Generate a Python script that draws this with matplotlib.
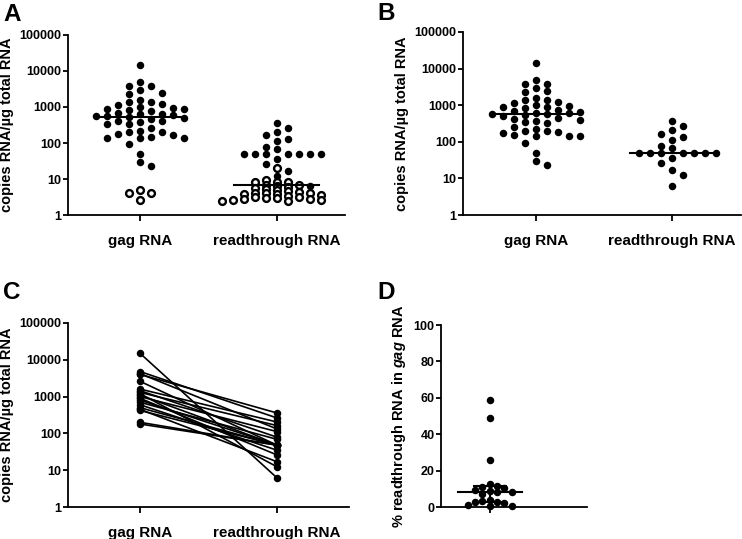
import numpy as np
import matplotlib
matplotlib.use('Agg')
import matplotlib.pyplot as plt
from matplotlib.ticker import FixedLocator, NullLocator

plt.rcParams['font.family'] = ['Liberation Sans', 'DejaVu Sans']
plt.rcParams['font.weight'] = 'bold'
plt.rcParams['axes.labelweight'] = 'bold'
plt.rcParams['mathtext.fontset'] = 'custom'
plt.rcParams['mathtext.rm'] = 'Liberation Sans:bold'
plt.rcParams['mathtext.it'] = 'Liberation Sans:italic:bold'
plt.rcParams['mathtext.default'] = 'rm'

# data
categories = ['gag RNA', 'readthrough RNA']
gag = [14500, 4900, 3900, 3900, 2900, 2500, 2250, 1600, 1400, 1350, 1250, 1150,
       1000, 950, 900, 900, 850, 750, 700, 650, 620, 600, 580, 560, 530, 500,
       460, 420, 400, 380, 340, 330, 260, 220, 200, 200, 180, 170, 150, 140,
       140, 140, 95, 48, 29, 23]
gag_open = [5.0, 4.1, 4.1, 2.6]
rt = [359, 263, 204, 163, 132, 112, 79, 69, 48, 48, 48, 48, 48, 48, 48,
      35, 26, 17, 12.4, 6.2]
rt_open = [20, 9.5, 8.5, 8.2, 8, 7, 6.8, 6.5, 6, 5.5, 5.2, 5, 4.6, 4.4, 4.2,
           4, 4, 3.9, 3.8, 3.6, 3.3, 3.2, 3.1, 3, 2.9, 2.8, 2.7, 2.6, 2.6,
           2.5, 2.5]
pair_gag = [15000, 4800, 4200, 4000, 2600, 1600, 1450, 1300, 1200, 1100,
            1000, 900, 800, 700, 600, 500, 450, 420, 200, 180]
pair_rt = [6.2, 263, 132, 359, 48, 204, 79, 163, 12.4, 48,
           112, 26, 48, 69, 35, 48, 17, 48, 48, 48]
pct = [59, 49, 26, 12.5, 11.5, 11.2, 10.5, 9.3, 8.8, 8.5, 8.1, 7.1,
       3.8, 3.5, 3.0, 2.6, 2.2, 1.2, 0.8, 0.5]
log_ticks = [1, 10, 100, 1000, 10000, 100000]
pct_ticks = [0, 20, 40, 60, 80, 100]

COL = 11.0   # column spacing in px
MS = 5.4


def swarm(vals, ypx, xpx_per_unit, dy=6.0):
    # graphpad-like scatter: points go into columns, nearest centre first
    # dy can be one number or one per point (open circles pack tighter)
    vals = np.asarray(vals, float)
    dys = np.broadcast_to(np.asarray(dy, float), vals.shape)
    offs = np.zeros(len(vals))
    cols = {}
    for i in np.argsort(-vals, kind='stable'):
        y = ypx(vals[i])
        k = 0
        while True:
            if k == 0:
                cands = [0]
            else:
                right = sum(len(cols.get(j, [])) for j in range(1, 20))
                left = sum(len(cols.get(-j, [])) for j in range(1, 20))
                cands = [k, -k] if right <= left else [-k, k]
            ok = None
            for c in cands:
                if all(abs(y - py) >= (dys[i] + pd) / 2 for py, pd in cols.get(c, [])):
                    ok = c
                    break
            if ok is not None:
                cols.setdefault(ok, []).append((y, dys[i]))
                offs[i] = ok * COL / xpx_per_unit
                break
            k += 1
    return offs


def style(ax, log=True):
    for s in ['top', 'right']:
        ax.spines[s].set_visible(False)
    for s in ['left', 'bottom']:
        ax.spines[s].set_linewidth(1.3)
    ax.tick_params(axis='both', direction='out', length=3.8, width=1.3)
    ax.tick_params(axis='y', labelsize=9, pad=0.8)
    if log:
        ax.set_yscale('log')
        ax.set_ylim(1, 100000)
        ax.yaxis.set_major_locator(FixedLocator(log_ticks))
        ax.yaxis.set_minor_locator(NullLocator())
        ax.set_yticklabels([str(t) for t in log_ticks])
        ax.set_ylabel('copies RNA/\u00b5g total RNA', fontsize=10.5, labelpad=4)
    ax.set_xticks([0, 1])
    ax.set_xticklabels(categories)
    ax.tick_params(axis='x', labelsize=11, pad=9, length=4.5)


fig = plt.figure(figsize=(7.42, 5.39), dpi=100)

# panel A
axA = fig.add_axes([68 / 742, 1 - 215 / 539, 277 / 742, 180 / 539])
for x0, fv, ov in [(0, gag, gag_open), (1, rt, rt_open)]:
    allv = list(fv) + list(ov)
    dys = [7.0] * len(fv) + [4.0] * len(ov)
    offs = swarm(allv, lambda v: np.log10(v) * 36.0, 137, dys)
    nf = len(fv)
    axA.plot(x0 + offs[:nf], fv, 'o', color='black', ms=MS, mew=0)
    axA.plot(x0 + offs[nf:], ov, 'o', mfc='white', mec='black', ms=MS - 0.5, mew=1.7)
    m = np.median(allv)
    axA.plot([x0 - 0.31, x0 + 0.31], [m, m], color='black', lw=1.5, zorder=3)
axA.set_xlim(-0.526, 1.5)
style(axA)

# panel B
axB = fig.add_axes([463 / 742, 1 - 215 / 539, 278 / 742, 183 / 539])
for x0, fv in [(0, gag), (1, rt)]:
    offs = swarm(fv, lambda v: np.log10(v) * 36.6, 136, 7.0)
    axB.plot(x0 + offs, fv, 'o', color='black', ms=MS, mew=0)
    m = np.median(fv)
    axB.plot([x0 - 0.31, x0 + 0.31], [m, m], color='black', lw=1.5, zorder=3)
axB.set_xlim(-0.537, 1.507)
style(axB)

# panel C
axC = fig.add_axes([68 / 742, 1 - 507 / 539, 281 / 742, 184 / 539])
for g, r in zip(pair_gag, pair_rt):
    axC.plot([0, 1], [g, r], '-o', color='black', lw=1.2, ms=MS, mew=0)
axC.set_xlim(-0.526, 1.526)
style(axC)

# panel D
axD = fig.add_axes([441 / 742, 1 - 507 / 539, 146 / 742, 182 / 539])
offs = swarm(pct, lambda v: v * 1.82, 146, 6.0)
axD.plot(offs, pct, 'o', color='black', ms=MS, mew=0, clip_on=False, zorder=4)
med = np.median(pct)
q1, q3 = np.percentile(pct, [25, 75])
axD.plot([-0.33, 0.33], [med, med], color='black', lw=1.5, zorder=3)
axD.errorbar([0], [med], yerr=[[med - q1], [q3 - med]], color='black', lw=1.5,
             capsize=12, capthick=1.5, zorder=3)
axD.set_xlim(-0.5, 0.5)
axD.set_ylim(0, 100)
style(axD, log=False)
axD.set_xticks([0])
axD.set_xticklabels([''])
axD.yaxis.set_major_locator(FixedLocator(pct_ticks))
axD.set_ylabel('% readthrough RNA in $\\it{gag}$ RNA', fontsize=10.5, labelpad=4)

# panel letters
for lab, x, y in [('A', 3, 3), ('B', 377, 2), ('C', 3, 281), ('D', 377, 281)]:
    fig.text(x / 742, 1 - y / 539, lab, fontsize=17.5, fontweight='bold', va='top', ha='left')

fig.savefig('out.png', dpi=100)
